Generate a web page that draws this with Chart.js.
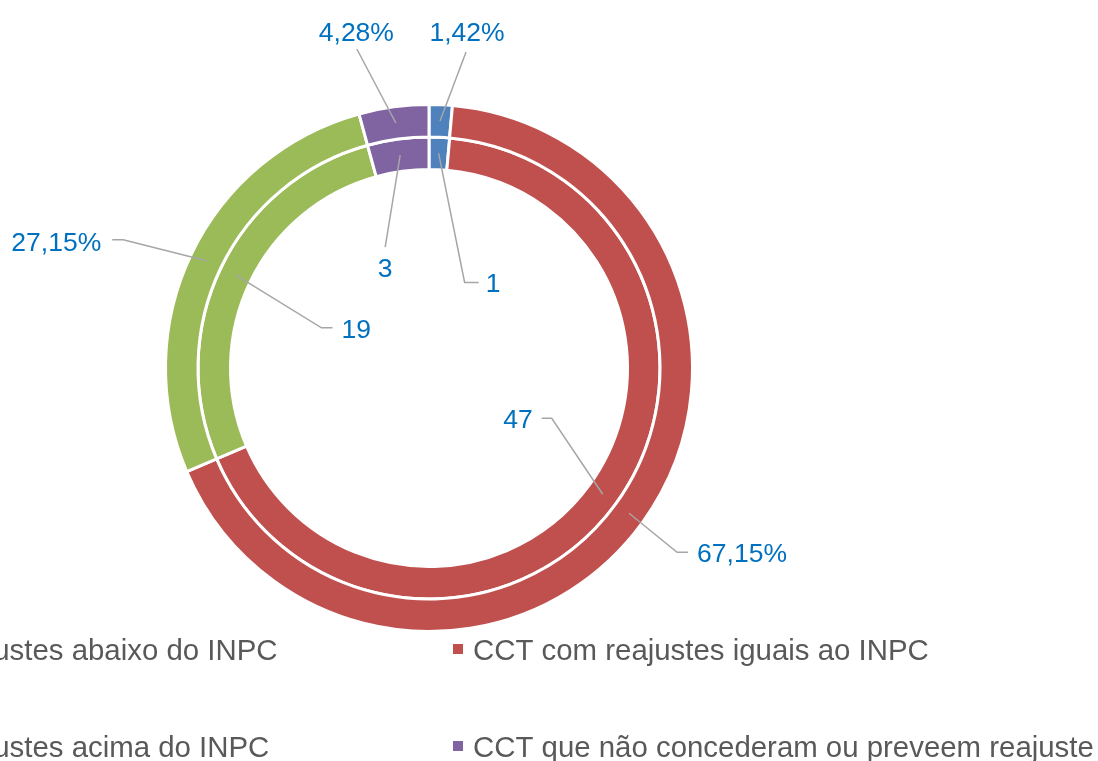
<!DOCTYPE html>
<html>
<head>
<meta charset="utf-8">
<script src="https://cdn.jsdelivr.net/npm/chart.js@4/dist/chart.umd.min.js"></script>
<style>
  html, body { margin: 0; padding: 0; background: #ffffff; overflow: hidden; }
  #wrap { position: relative; width: 1098px; height: 761px; }
  canvas { display: block; }
</style>
</head>
<body>
<div id="wrap"><canvas id="c" width="1098" height="761"></canvas></div>
<script>
// ---- data ----
const categories = [
  'CCT com reajustes abaixo do INPC',
  'CCT com reajustes iguais ao INPC',
  'CCT com reajustes acima do INPC',
  'CCT que não concederam ou preveem reajuste'
];
const percentValues = [1.42, 67.15, 27.15, 4.28];   // outer ring (%)
const countValues = [1, 47, 19, 3];                 // inner ring (count)
const colors = ['#4F81BD', '#C0504D', '#9BBB59', '#8064A2'];

// ---- layout (leader line / label offsets relative to each arc's mid point) ----
const labelLayout = [
  // outer ring
  [
    { pts: [[26, -69]], text: [27, -80, 'center'] },
    { pts: [[48, 39], [59, 39]], text: [68, 49, 'left'] },
    { pts: [[-83, -21], [-94, -21]], text: [-105, -10, 'right'] },
    { pts: [[-39, -74]], text: [-39.5, -82, 'center'] }
  ],
  // inner ring
  [
    { pts: [[26, 129], [40, 129]], text: [47, 139, 'left'] },
    { pts: [[-51, -76], [-61, -76]], text: [-70, -66, 'right'] },
    { pts: [[86, 53], [97, 53]], text: [106, 63, 'left'] },
    { pts: [[-15, 92]], text: [-15, 122, 'center'] }
  ]
];

const FONT = '"Liberation Sans", Arial, Helvetica, sans-serif';

const leaderLabels = {
  id: 'leaderLabels',
  afterDatasetsDraw(chart) {
    const ctx = chart.ctx;
    ctx.save();
    chart.data.datasets.forEach((ds, di) => {
      const meta = chart.getDatasetMeta(di);
      meta.data.forEach((arc, i) => {
        const p = arc.getProps(['x', 'y', 'startAngle', 'endAngle', 'innerRadius', 'outerRadius'], true);
        const a = (p.startAngle + p.endAngle) / 2;
        const r = (p.innerRadius + p.outerRadius) / 2;
        const ax = p.x + Math.cos(a) * r;
        const ay = p.y + Math.sin(a) * r;
        const lay = labelLayout[di][i];
        ctx.beginPath();
        ctx.moveTo(ax, ay);
        lay.pts.forEach(pt => ctx.lineTo(ax + pt[0], ay + pt[1]));
        ctx.strokeStyle = '#A6A6A6';
        ctx.lineWidth = 1.5;
        ctx.stroke();
        const v = ds.data[i];
        const txt = di === 0 ? v.toFixed(2).replace('.', ',') + '%' : String(v);
        ctx.font = '26.5px ' + FONT;
        ctx.fillStyle = '#0070C0';
        ctx.textAlign = lay.text[2];
        ctx.textBaseline = 'alphabetic';
        ctx.fillText(txt, ax + lay.text[0], ay + lay.text[1]);
      });
    });
    ctx.restore();
  }
};

const customLegend = {
  id: 'customLegend',
  afterDraw(chart) {
    const ctx = chart.ctx;
    ctx.save();
    ctx.font = '29.4px ' + FONT;
    ctx.textBaseline = 'alphabetic';
    ctx.textAlign = 'left';
    const colX = [-188, 473];
    const rowY = [660, 757];
    categories.forEach((lab, i) => {
      const col = i % 2, row = Math.floor(i / 2);
      const tx = colX[col];
      const by = rowY[row];
      ctx.fillStyle = colors[i];
      ctx.fillRect(tx - 20, by - 16, 10, 10);
      ctx.fillStyle = '#595959';
      ctx.fillText(lab, tx, by);
    });
    ctx.restore();
  }
};

new Chart(document.getElementById('c'), {
  type: 'doughnut',
  data: {
    labels: categories,
    datasets: [
      { data: percentValues, backgroundColor: colors, borderColor: '#ffffff', borderWidth: 3 },
      { data: countValues, backgroundColor: colors, borderColor: '#ffffff', borderWidth: 3 }
    ]
  },
  options: {
    responsive: false,
    animation: false,
    devicePixelRatio: 1,
    radius: 263.5,
    cutout: (198.5 / 263.5 * 100) + '%',
    layout: { padding: { left: 0, top: 0, right: 240, bottom: 25 } },
    plugins: {
      legend: { display: false },
      tooltip: { enabled: false }
    }
  },
  plugins: [leaderLabels, customLegend]
});
</script>
</body>
</html>
